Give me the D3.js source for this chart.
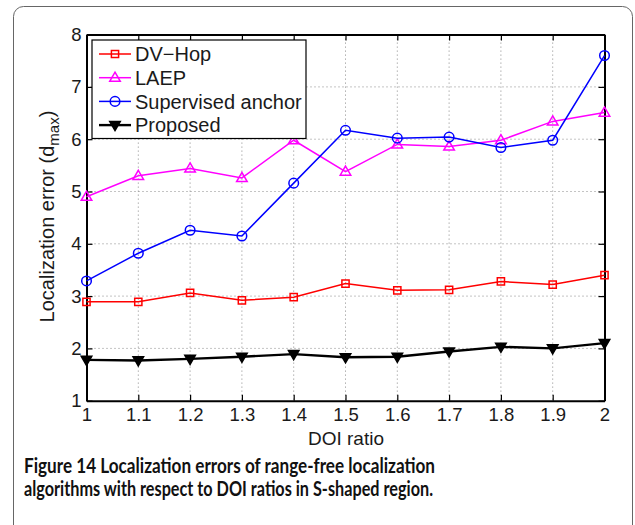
<!DOCTYPE html>
<html>
<head>
<meta charset="utf-8">
<script src="https://cdn.jsdelivr.net/npm/d3@7"></script>
<style>
  html, body { margin: 0; padding: 0; background: #fff; }
  svg { display: block; }
</style>
</head>
<body>
<svg id="chart" width="635" height="525"></svg>
<script>
// DOI ratio on the x axis
const doiRatios = [1, 1.1, 1.2, 1.3, 1.4, 1.5, 1.6, 1.7, 1.8, 1.9, 2];

// Localization error (in units of d_max) for each algorithm
const dvHop      = [2.89, 2.89, 3.06, 2.92, 2.98, 3.24, 3.11, 3.12, 3.28, 3.22, 3.40];
const laep       = [4.90, 5.30, 5.44, 5.26, 5.98, 5.38, 5.90, 5.86, 5.98, 6.34, 6.51];
const supervised = [3.29, 3.82, 4.26, 4.15, 5.16, 6.17, 6.02, 6.04, 5.84, 5.98, 7.60];
const proposed   = [1.78, 1.77, 1.80, 1.84, 1.89, 1.83, 1.84, 1.94, 2.03, 2.00, 2.10];

const seriesNames = ["DV\u2212Hop", "LAEP", "Supervised anchor", "Proposed"];
const xTickLabels = ["1", "1.1", "1.2", "1.3", "1.4", "1.5", "1.6", "1.7", "1.8", "1.9", "2"];
const yTickValues = [1, 2, 3, 4, 5, 6, 7, 8];

const series = [
  { name: seriesNames[0], values: dvHop,      color: "#ff0000", marker: "square",  width: 1.5 },
  { name: seriesNames[1], values: laep,       color: "#ff00ff", marker: "triUp",   width: 1.5 },
  { name: seriesNames[2], values: supervised, color: "#0000ff", marker: "circle",  width: 1.5 },
  { name: seriesNames[3], values: proposed,   color: "#000000", marker: "triDown", width: 2.4 }
];

const svg = d3.select("#chart");
const plot = { left: 86.5, right: 604.5, top: 34.6, bottom: 400.7 };

const x = d3.scaleLinear().domain([1, 2]).range([plot.left, plot.right]);
const y = d3.scaleLinear().domain([1, 8]).range([plot.bottom, plot.top]);

// outer panel frame
svg.append("rect")
  .attr("x", 13.5).attr("y", 6.5)
  .attr("width", 619).attr("height", 540)
  .attr("rx", 10).attr("ry", 10)
  .attr("fill", "none").attr("stroke", "#666").attr("stroke-width", 1);

// dotted grid
const grid = svg.append("g").attr("stroke", "#888").attr("stroke-width", 1)
  .attr("stroke-dasharray", "1,3");
doiRatios.slice(1, -1).forEach(v => {
  grid.append("line").attr("x1", x(v)).attr("x2", x(v))
    .attr("y1", plot.top).attr("y2", plot.bottom);
});
yTickValues.slice(1, -1).forEach(v => {
  grid.append("line").attr("x1", plot.left).attr("x2", plot.right)
    .attr("y1", y(v)).attr("y2", y(v));
});

// axes with inward ticks on all four sides
const fontAxis = "'Liberation Sans', Arial, sans-serif";
const tickLen = 6;
const axisBottom = d3.axisBottom(x).tickValues(doiRatios)
  .tickFormat((d, i) => xTickLabels[i]).tickSizeInner(-tickLen).tickSizeOuter(0).tickPadding(7);
const axisTop = d3.axisTop(x).tickValues(doiRatios)
  .tickFormat("").tickSizeInner(-tickLen).tickSizeOuter(0);
const axisLeft = d3.axisLeft(y).tickValues(yTickValues)
  .tickFormat(d3.format("d")).tickSizeInner(-tickLen).tickSizeOuter(0).tickPadding(5);
const axisRight = d3.axisRight(y).tickValues(yTickValues)
  .tickFormat("").tickSizeInner(-tickLen).tickSizeOuter(0);

function styleAxis(g) {
  g.selectAll("path").attr("stroke", "#000").attr("stroke-width", 2);
  g.selectAll("line").attr("stroke", "#000").attr("stroke-width", 1.2);
  g.selectAll("text").attr("fill", "#1a1a1a")
    .style("font-family", fontAxis).style("font-size", "18.5px");
}
svg.append("g").attr("transform", `translate(0,${plot.bottom})`).call(axisBottom).call(styleAxis);
svg.append("g").attr("transform", `translate(0,${plot.top})`).call(axisTop).call(styleAxis);
svg.append("g").attr("transform", `translate(${plot.left},0)`).call(axisLeft).call(styleAxis);
svg.append("g").attr("transform", `translate(${plot.right},0)`).call(axisRight).call(styleAxis);

// marker shapes
function markerPath(type, s) {
  if (type === "square") return `M${-s},${-s}H${s}V${s}H${-s}Z`;
  if (type === "triUp") return `M0,${-s * 1.15}L${s * 1.1},${s * 0.75}L${-s * 1.1},${s * 0.75}Z`;
  if (type === "triDown") return `M0,${s * 1.15}L${s * 1.1},${-s * 0.75}L${-s * 1.1},${-s * 0.75}Z`;
  return null;
}
function drawMarker(g, type, color, cx, cy) {
  if (type === "circle") {
    g.append("circle").attr("cx", cx).attr("cy", cy).attr("r", 4.8)
      .attr("fill", "none").attr("stroke", color).attr("stroke-width", 1.5);
  } else {
    const sz = type === "square" ? 3.6 : 4.8;
    g.append("path").attr("d", markerPath(type, sz))
      .attr("transform", `translate(${cx},${cy})`)
      .attr("fill", type === "triDown" ? color : "none")
      .attr("stroke", color).attr("stroke-width", 1.5);
  }
}

// data lines and markers
const line = d3.line().x((d, i) => x(doiRatios[i])).y(d => y(d));
series.forEach(s => {
  const g = svg.append("g");
  g.append("path").datum(s.values).attr("d", line)
    .attr("fill", "none").attr("stroke", s.color).attr("stroke-width", s.width);
  s.values.forEach((v, i) => drawMarker(g, s.marker, s.color, x(doiRatios[i]), y(v)));
});

// legend
const legend = svg.append("g");
legend.append("rect").attr("x", 92).attr("y", 40).attr("width", 214).attr("height", 98.5)
  .attr("fill", "#fff").attr("stroke", "#000").attr("stroke-width", 1.2);
series.forEach((s, i) => {
  const ly = 54 + i * 23.7;
  legend.append("line").attr("x1", 99).attr("x2", 131).attr("y1", ly).attr("y2", ly)
    .attr("stroke", s.color).attr("stroke-width", s.width);
  drawMarker(legend, s.marker, s.color, 115, ly);
  legend.append("text").attr("x", 135).attr("y", ly).attr("dy", "0.36em")
    .style("font-family", fontAxis).style("font-size", "20px").attr("fill", "#1a1a1a")
    .text(s.name);
});

// axis titles
svg.append("text").attr("x", 346).attr("y", 445).attr("text-anchor", "middle")
  .style("font-family", fontAxis).style("font-size", "19px").attr("fill", "#1a1a1a")
  .text("DOI ratio");

const yTitle = svg.append("text")
  .attr("transform", `translate(54,216.5) rotate(-90)`)
  .attr("text-anchor", "middle")
  .style("font-family", fontAxis).style("font-size", "20px").attr("fill", "#1a1a1a");
yTitle.append("tspan").text("Localization error (d");
yTitle.append("tspan").attr("dy", 5).style("font-size", "15px").text("max");
yTitle.append("tspan").attr("dy", -5).text(")");

// figure caption, two lines
const capFont = "Lato, 'Open Sans', sans-serif";
const captionLines = [
  "Figure 14 Localization errors of range-free localization",
  "algorithms with respect to DOI ratios in S-shaped region."
];
const captionWidths = [411, 409];
captionLines.forEach((t, i) => {
  svg.append("text").attr("x", 24).attr("y", 473 + i * 23)
    .attr("textLength", captionWidths[i]).attr("lengthAdjust", "spacingAndGlyphs")
    .style("font-family", capFont).style("font-size", "20px").style("font-weight", 700)
    .attr("fill", "#111").text(t);
});
</script>
</body>
</html>
